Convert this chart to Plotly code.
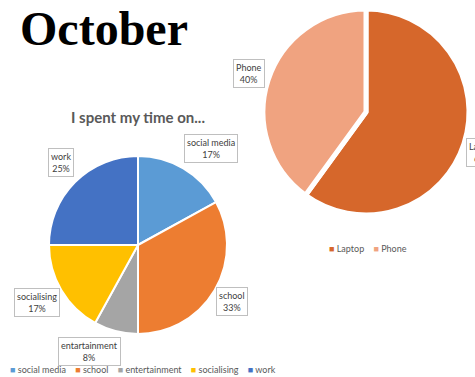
import plotly.graph_objects as go

W, H = 475, 377

# Activity breakdown for October (percent of time)
activities = ["social media", "school", "entartainment", "socialising", "work"]
legend_names = ["social media", "school", "entertainment", "socialising", "work"]
activity_share = [17, 33, 8, 17, 25]
activity_colors = ["#5B9BD5", "#ED7D31", "#A5A5A5", "#FFC000", "#4472C4"]

# Device usage (percent)
devices = ["Laptop", "Phone"]
device_share = [60, 40]
device_colors = ["#D6672B", "#F0A380"]


def px_x(x):
    return x / W


def px_y(y):
    return 1 - y / H


def domain(cx, cy, r):
    return dict(x=[px_x(cx - r), px_x(cx + r)], y=[px_y(cy + r), px_y(cy - r)])


fig = go.Figure()

fig.add_trace(go.Pie(
    labels=activities, values=activity_share, sort=False,
    direction="clockwise", rotation=0,
    marker=dict(colors=activity_colors, line=dict(color="white", width=2)),
    textinfo="none", hoverinfo="label+percent", showlegend=False,
    domain=domain(138, 245, 89),
))

fig.add_trace(go.Pie(
    labels=devices, values=device_share, sort=False,
    direction="clockwise", rotation=0,
    marker=dict(colors=device_colors, line=dict(color="white", width=5)),
    textinfo="none", hoverinfo="label+percent", showlegend=False,
    domain=domain(366, 112, 103),
))

label_font = dict(family="Lato", size=9, color="#404040")
box_style = dict(bgcolor="white", bordercolor="#BFBFBF", borderwidth=1, borderpad=2,
                 showarrow=False, font=label_font, xref="paper", yref="paper",
                 yanchor="middle")

# Callout positions (pixel centres) for each slice label
activity_label_pos = [(211, 148), (232, 301), (89, 351), (37, 302), (61, 163)]
for name, val, (lx, ly) in zip(activities, activity_share, activity_label_pos):
    fig.add_annotation(text=f"{name}<br>{val}%", x=px_x(lx), y=px_y(ly),
                       xanchor="center", **box_style)

device_label_pos = [(466, 152, "left"), (249, 73, "center")]
for name, val, (lx, ly, anchor) in zip(devices, device_share, device_label_pos):
    fig.add_annotation(text=f"{name}<br>{val}%", x=px_x(lx), y=px_y(ly),
                       xanchor=anchor, **box_style)

# Title and chart heading
fig.add_annotation(text="<b>October</b>", x=px_x(18), y=px_y(28), xanchor="left",
                   yanchor="middle", showarrow=False, xref="paper", yref="paper",
                   font=dict(family="Liberation Serif", size=48, color="#000000"))
fig.add_annotation(text="<b>I spent my time on...</b>", x=px_x(138), y=px_y(117),
                   xanchor="center", yanchor="middle",
                   showarrow=False, xref="paper", yref="paper",
                   font=dict(family="Lato", size=15, color="#595959"))


def legend_text(names, colors):
    parts = [f'<span style="color:{c}">■</span> {n}' for n, c in zip(names, colors)]
    return "    ".join(parts)


legend_font = dict(family="Lato", size=9, color="#595959")
fig.add_annotation(text=legend_text(legend_names, activity_colors), x=px_x(8), y=px_y(369),
                   xanchor="left", yanchor="middle", showarrow=False,
                   xref="paper", yref="paper", font=legend_font)
fig.add_annotation(text=legend_text(devices, device_colors), x=px_x(368), y=px_y(249),
                   xanchor="center", yanchor="middle", showarrow=False,
                   xref="paper", yref="paper", font=legend_font)

fig.update_layout(
    width=W, height=H,
    margin=dict(l=0, r=0, t=0, b=0),
    paper_bgcolor="white", plot_bgcolor="white",
)

fig.write_html("out.html")
